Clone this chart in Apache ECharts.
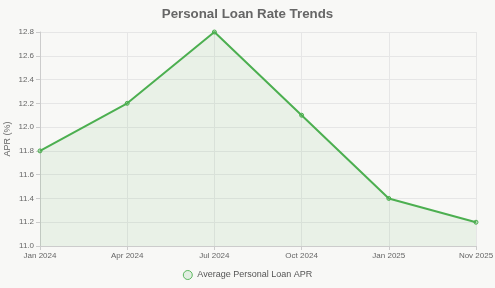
<!DOCTYPE html>
<html><head><meta charset="utf-8">
<script src="https://cdn.jsdelivr.net/npm/echarts@6/dist/echarts.min.js"></script>
<style>html,body{margin:0;padding:0;background:#f8f8f6;}#c{width:495px;height:288px;}</style>
</head><body><div id="c"></div>
<script>
const categories = ["Jan 2024", "Apr 2024", "Jul 2024", "Oct 2024", "Jan 2025", "Nov 2025"];
const aprValues = [11.8, 12.2, 12.8, 12.1, 11.4, 11.2];
const seriesName = "Average Personal Loan APR";

const chart = echarts.init(document.getElementById('c'));
chart.setOption({
  backgroundColor: '#f8f8f6',
  animation: false,
  title: {
    text: 'Personal Loan Rate Trends',
    left: 'center', top: 3,
    textStyle: { fontFamily: 'Liberation Sans, Arial, sans-serif', fontSize: 13.3, fontWeight: 'bold', color: '#666' }
  },
  legend: {
    bottom: 3, left: 'center',
    icon: 'circle', itemWidth: 9, itemHeight: 9,
    textStyle: { fontFamily: 'Liberation Sans, Arial, sans-serif', fontSize: 9, color: '#555' },
    data: [{ name: seriesName, itemStyle: { color: 'rgba(76,175,80,0.12)', borderColor: '#5cb860', borderWidth: 1 } }]
  },
  grid: { left: 40, right: 19, top: 32, bottom: 42, outerBoundsMode: 'none' },
  xAxis: {
    type: 'category', data: categories, boundaryGap: false,
    axisLine: { lineStyle: { color: '#ccc' } },
    axisTick: { show: true, lineStyle: { color: '#ccc' }, length: 4 },
    axisLabel: { fontFamily: 'Liberation Sans, Arial, sans-serif', fontSize: 8, color: '#666', margin: 6 },
    splitLine: { show: true, lineStyle: { color: '#e6e6e6' } }
  },
  yAxis: {
    type: 'value', min: 11.0, max: 12.8, interval: 0.2,
    name: 'APR (%)', nameLocation: 'middle', nameGap: 28, nameRotate: 90, nameMoveOverlap: false,
    nameTextStyle: { fontFamily: 'Liberation Sans, Arial, sans-serif', fontSize: 9, color: '#666' },
    axisLine: { show: true, lineStyle: { color: '#ccc' } },
    axisTick: { show: true, length: 4, lineStyle: { color: '#ccc' } },
    axisLabel: { fontFamily: 'Liberation Sans, Arial, sans-serif', fontSize: 8, color: '#666', margin: 6,
      formatter: v => v.toFixed(1) },
    splitLine: { show: true, lineStyle: { color: '#e6e6e6' } }
  },
  series: [{
    name: seriesName, type: 'line', data: aprValues,
    symbol: 'circle', symbolSize: 4,
    lineStyle: { color: '#4caf50', width: 2 },
    itemStyle: { color: 'rgba(76,175,80,0.3)', borderColor: '#4caf50', borderWidth: 1 },
    areaStyle: { color: 'rgba(76,175,80,0.12)' }
  }]
});
</script></body></html>
